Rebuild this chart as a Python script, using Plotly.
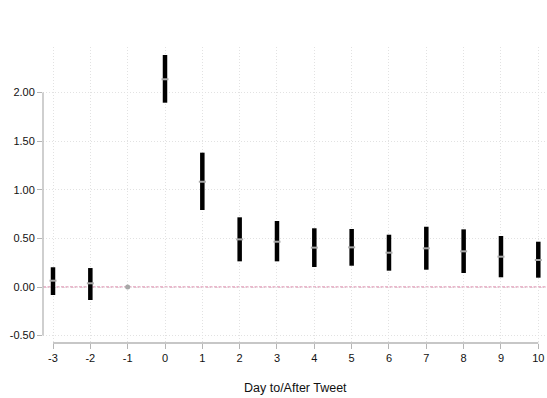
import plotly.graph_objects as go

days = [-3, -2, -1, 0, 1, 2, 3, 4, 5, 6, 7, 8, 9, 10]
est = [0.065, 0.038, 0.0, 2.137, 1.083, 0.49, 0.466, 0.405, 0.408, 0.353, 0.398, 0.367, 0.312, 0.278]
lo = [-0.082, -0.134, 0.0, 1.896, 0.792, 0.264, 0.264, 0.206, 0.219, 0.168, 0.178, 0.144, 0.100, 0.096]
hi = [0.203, 0.195, 0.0, 2.387, 1.382, 0.717, 0.679, 0.604, 0.597, 0.538, 0.620, 0.593, 0.525, 0.466]
ytick_vals = [-0.5, 0.0, 0.5, 1.0, 1.5, 2.0]
ytick_text = ["-0.50", "0.00", "0.50", "1.00", "1.50", "2.00"]
xlabel = "Day to/After Tweet"

ci_days = [d for d, l, h in zip(days, lo, hi) if h != l]
ci_est = [e for e, l, h in zip(est, lo, hi) if h != l]
ci_plus = [h - e for e, l, h in zip(est, lo, hi) if h != l]
ci_minus = [e - l for e, l, h in zip(est, lo, hi) if h != l]
ref_days = [d for d, l, h in zip(days, lo, hi) if h == l]
ref_est = [e for e, l, h in zip(est, lo, hi) if h == l]

fig = go.Figure()
fig.add_shape(type="line", xref="paper", yref="y", x0=0, x1=1, y0=0, y1=0,
              line=dict(color="#e2a2bc", width=1.5, dash="3px,1.5px"), layer="below")
fig.add_trace(go.Scatter(
    x=ci_days, y=ci_est, mode="markers",
    marker=dict(symbol="line-ew-open", size=5, color="#a8a8a8", line=dict(width=2, color="#a8a8a8")),
    error_y=dict(type="data", symmetric=False, array=ci_plus, arrayminus=ci_minus,
                 color="black", thickness=4.5, width=0),
    showlegend=False, hoverinfo="skip"))
fig.add_trace(go.Scatter(
    x=ref_days, y=ref_est, mode="markers",
    marker=dict(symbol="circle", size=5, color="#a8a8a8"),
    showlegend=False, hoverinfo="skip"))

# axis lines spanning tick range only
fig.add_shape(type="line", xref="paper", yref="y", x0=0, x1=0, y0=ytick_vals[0], y1=ytick_vals[-1],
              line=dict(color="#b5b5b5", width=1.3))
fig.add_shape(type="line", xref="x", yref="paper", x0=days[0], x1=days[-1], y0=0, y1=0,
              line=dict(color="#b5b5b5", width=1.3))

fig.add_annotation(text=xlabel, xref="paper", yref="paper", x=0.5, y=0, yshift=-45,
                   showarrow=False, font=dict(size=12.5, color="#111"), yanchor="middle")

fig.update_layout(
    width=547, height=398,
    margin=dict(l=43, r=0, t=47, b=55),
    plot_bgcolor="white", paper_bgcolor="white",
    font=dict(family="Liberation Sans, Arial, sans-serif", size=11, color="#111"),
    xaxis=dict(range=[-3.268, 10.233], tickvals=days, ticktext=[str(d) for d in days],
               showgrid=True, gridcolor="#e2e2e2", griddash="1px,2px", gridwidth=1,
               zeroline=False, showline=False, ticks="outside", ticklen=5,
               tickcolor="#b5b5b5", tickwidth=1.3),
    yaxis=dict(range=[-0.576, 2.469], tickvals=ytick_vals, ticktext=ytick_text,
               showgrid=True, gridcolor="#e2e2e2", griddash="1px,2px", gridwidth=1,
               zeroline=False, showline=False, ticks="outside", ticklen=5,
               tickcolor="#b5b5b5", tickwidth=1.3),
)
fig.write_html("out.html", config={"displayModeBar": False},
               post_script="document.body.style.margin='0';document.body.style.overflow='hidden';")
